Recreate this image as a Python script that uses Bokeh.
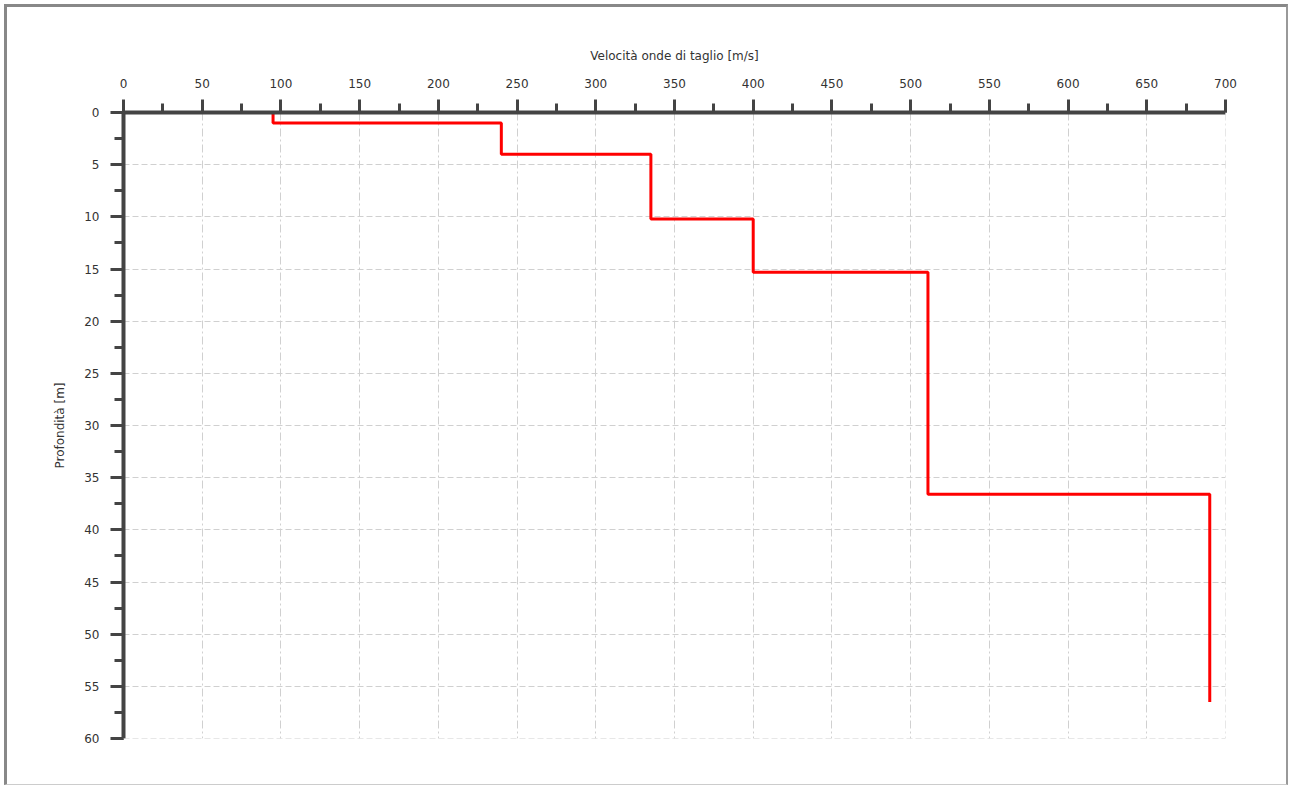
from bokeh.plotting import figure
from bokeh.models import Range1d, SingleIntervalTicker, Span
from bokeh.embed import file_html
from bokeh.resources import INLINE

# Data (shear-wave velocity profile)
layer_top = [0.0, 1.0, 4.0, 10.2, 15.3, 36.6]
layer_bottom = [1.0, 4.0, 10.2, 15.3, 36.6, 56.5]
vs = [95, 240, 335, 400, 511, 690]

x_title = "Velocità onde di taglio [m/s]"
y_title = "Profondità [m]"
x_max, y_max = 700, 60

# build step polyline from layers
xs, ys = [], []
for t, b, v in zip(layer_top, layer_bottom, vs):
    xs += [v, v]
    ys += [t, b]

p = figure(width=1284, height=781, output_backend="svg", toolbar_location=None,
           x_range=Range1d(0, x_max), y_range=Range1d(y_max, 0),
           x_axis_location="above",
           min_border_left=116, min_border_right=66, min_border_top=105, min_border_bottom=50)
p.styles = {"margin": "4px 0 0 4px",
            "border-top": "3px solid #888", "border-left": "3px solid #888",
            "border-right": "2px solid #999", "border-bottom": "1px solid #ccc"}
p.outline_line_color = None
p.background_fill_color = "white"
p.border_fill_color = "white"

p.xaxis.ticker = SingleIntervalTicker(interval=50, num_minor_ticks=2)
p.yaxis.ticker = SingleIntervalTicker(interval=5, num_minor_ticks=2)

for ax in (p.xaxis[0], p.yaxis[0]):
    ax.axis_line_width = 4
    ax.axis_line_color = "#444444"
    ax.major_tick_line_width = 3
    ax.major_tick_line_color = "#444444"
    ax.minor_tick_line_width = 3
    ax.minor_tick_line_color = "#444444"
    ax.major_tick_out = 13
    ax.major_tick_in = 0
    ax.minor_tick_out = 9
    ax.minor_tick_in = 0
    ax.major_label_text_font = "DejaVu Sans"
    ax.major_label_text_font_size = "12px"
    ax.major_label_text_color = "#333333"
    ax.axis_label_text_font = "DejaVu Sans"
    ax.axis_label_text_font_size = "12px"
    ax.axis_label_text_font_style = "normal"
    ax.axis_label_text_color = "#333333"

p.xaxis.axis_label = x_title
p.yaxis.axis_label = y_title
p.xaxis.major_label_standoff = 12
p.yaxis.major_label_standoff = 11
p.xaxis.axis_label_standoff = 13
p.yaxis.axis_label_standoff = 14

p.xgrid.grid_line_color = "#d0d0d0"
p.xgrid.grid_line_dash = "8 3 2 3"
p.xgrid.grid_line_width = 1
p.ygrid.grid_line_color = "#d0d0d0"
p.ygrid.grid_line_dash = "6 3"
p.ygrid.grid_line_width = 1

# grid lines on the far edges of the frame
p.add_layout(Span(location=x_max, dimension="height", line_color="#d0d0d0",
                  line_dash="8 3 2 3", line_width=1))
p.add_layout(Span(location=y_max, dimension="width", line_color="#d0d0d0",
                  line_dash="6 3", line_width=1))

p.line(xs, ys, line_color="#ff0000", line_width=3)

open("out.html", "w").write(file_html(p, INLINE))
